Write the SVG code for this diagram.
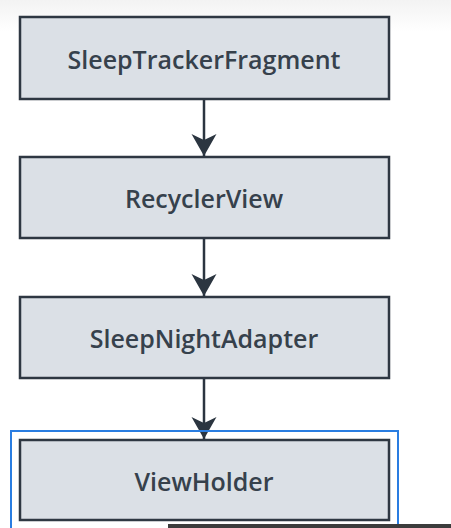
<svg xmlns="http://www.w3.org/2000/svg" width="451" height="528" viewBox="0 0 451 528">
  <defs>
    <linearGradient id="bg" x1="0" y1="0" x2="0" y2="1">
      <stop offset="0" stop-color="#f3f3f3"/>
      <stop offset="0.06" stop-color="#ffffff"/>
      <stop offset="1" stop-color="#ffffff"/>
    </linearGradient>
    <marker id="arrow" viewBox="0 0 24 26" refX="23" refY="12.5" markerWidth="24" markerHeight="26" markerUnits="userSpaceOnUse" orient="auto">
      <path d="M1,0 Q4,6 7,12.5 Q4,19 1,25 L23,12.5 Z" fill="#2b3540"/>
    </marker>
    <style>
      .box { fill: #dbe0e6; stroke: #2e3742; stroke-width: 2.5; }
      .label { font-family: "Open Sans", "Liberation Sans", sans-serif; font-size: 25px; font-weight: 600; fill: #36414c; text-anchor: middle; }
      .conn { stroke: #2b3540; stroke-width: 2.5; fill: none; }
    </style>
  </defs>
  <rect x="0" y="0" width="451" height="528" fill="url(#bg)"/>

  <g id="node-sleeptrackerfragment">
    <rect class="box" x="20" y="17" width="369" height="82"/>
    <text class="label" x="204" y="69">SleepTrackerFragment</text>
  </g>
  <g id="node-recyclerview">
    <rect class="box" x="20" y="157" width="369" height="81"/>
    <text class="label" x="204" y="208">RecyclerView</text>
  </g>
  <g id="node-sleepnightadapter">
    <rect class="box" x="20" y="297" width="369" height="81"/>
    <text class="label" x="204" y="348">SleepNightAdapter</text>
  </g>
  <g id="node-viewholder">
    <rect class="box" x="20" y="440" width="369" height="80"/>
    <text class="label" x="204" y="491">ViewHolder</text>
  </g>

  <g id="connectors">
    <line class="conn" x1="204" y1="100" x2="204" y2="156" marker-end="url(#arrow)"/>
    <line class="conn" x1="204" y1="239" x2="204" y2="296" marker-end="url(#arrow)"/>
    <line class="conn" x1="204" y1="379" x2="204" y2="439" marker-end="url(#arrow)"/>
  </g>

  <rect id="selection" x="11" y="431" width="387" height="110" fill="none" stroke="#2a7de1" stroke-width="2"/>
  <rect id="bottom-bar" x="168" y="524" width="283" height="4" fill="#3c3c3c"/>
</svg>
